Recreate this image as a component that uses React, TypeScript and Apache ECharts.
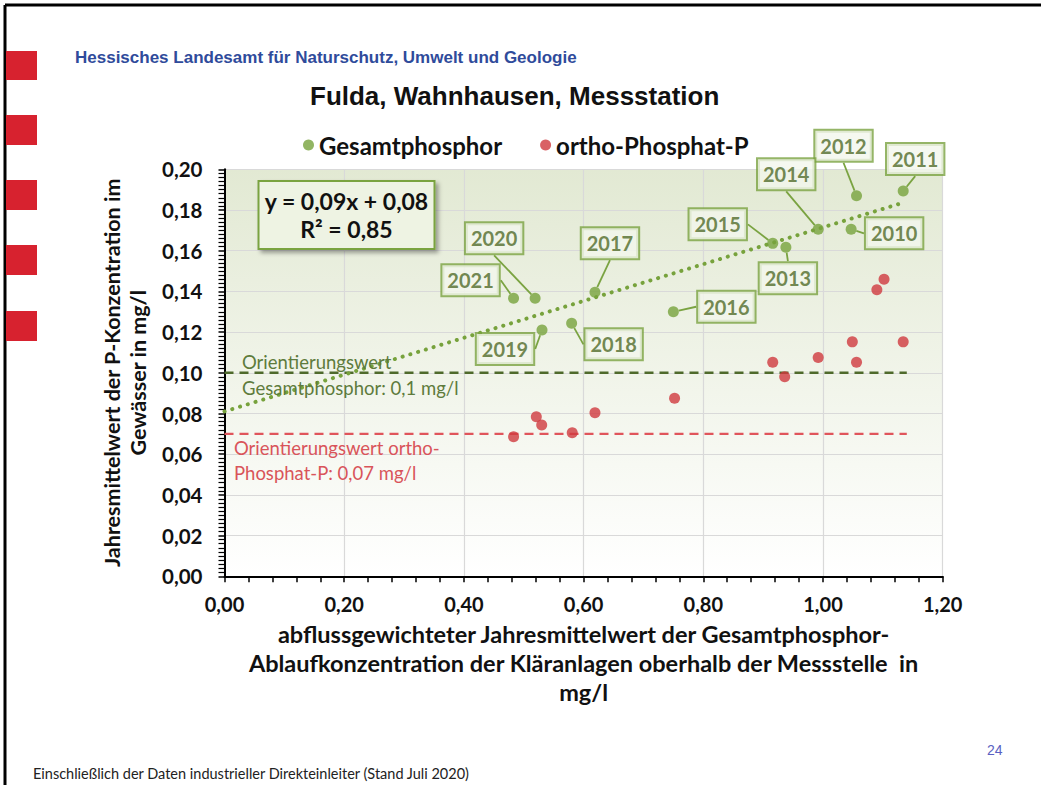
import React, { useEffect, useRef } from 'react';
import * as echarts from 'echarts';

// ---- data ----
const years = ['2010', '2011', '2012', '2013', '2014', '2015', '2016', '2017', '2018', '2019', '2020', '2021'];
const gesamtX = [1.047, 1.134, 1.056, 0.938, 0.992, 0.916, 0.75, 0.619, 0.58, 0.5305, 0.519, 0.483];
const gesamtY = [0.1705, 0.1893, 0.187, 0.1617, 0.1705, 0.1636, 0.13, 0.1396, 0.1243, 0.121, 0.1366, 0.1366];
const orthoX = [0.483, 0.521, 0.53, 0.581, 0.619, 0.752, 0.916, 0.936, 0.992, 1.049, 1.056, 1.134, 1.102, 1.09];
const orthoY = [0.0686, 0.0784, 0.0743, 0.0705, 0.0804, 0.0875, 0.1052, 0.0981, 0.1075, 0.1152, 0.1052, 0.1152, 0.146, 0.1408];
const trendX = [0, 1.134];
const trendY = [0.081, 0.1836];
const guideX = [0, 1.14];
const guideGesamt = 0.1;
const guideOrtho = 0.07;
const xTickLabels = ['0,00', '0,20', '0,40', '0,60', '0,80', '1,00', '1,20'];
const yTickLabels = ['0,00', '0,02', '0,04', '0,06', '0,08', '0,10', '0,12', '0,14', '0,16', '0,18', '0,20'];

// layout of the year callouts (pixel offsets from each point), same order as years
const labelOffsets: number[][] = [
  [43, 4], [12, -32], [-13, -50], [2, 31], [-32, -55], [-55, -19],
  [53, -5], [15, -49], [42, 21], [-37, 19], [-41, -60], [-43, -18],
];

const GREEN = '#77a23c';
const RED = '#d0393f';
const CAL = 'Lato, "Open Sans", sans-serif';

export default function App() {
  const ref = useRef<HTMLDivElement>(null);
  useEffect(() => {
    if (!ref.current) return;
    const chart = echarts.init(ref.current, undefined, { renderer: 'svg' });
    const option: any = {
      animation: false,
      backgroundColor: '#ffffff',
      title: {
        text: 'Fulda, Wahnhausen, Messstation',
        left: 305,
        top: 78,
        textStyle: { fontFamily: '"Liberation Sans", Arial, sans-serif', fontWeight: 'bold', fontSize: 26, color: '#111' },
      },
      legend: {
        data: ['Gesamtphosphor', 'ortho-Phosphat-P'],
        left: 298,
        top: 128,
        icon: 'circle',
        itemWidth: 11,
        itemHeight: 11,
        itemGap: 38,
        textStyle: { fontFamily: CAL, fontWeight: 'bold', fontSize: 24, color: '#111' },
      },
      grid: {
        left: 224.5,
        top: 169.3,
        right: 98.3,
        bottom: 208.7,
        show: true,
        borderWidth: 0,
        backgroundColor: new echarts.graphic.LinearGradient(0, 0, 0, 1, [
          { offset: 0, color: '#e2e9d3' },
          { offset: 1, color: '#ffffff' },
        ]),
      },
      xAxis: {
        type: 'value',
        min: 0,
        max: 1.2,
        interval: 0.2,
        name: 'abflussgewichteter Jahresmittelwert der Gesamtphosphor-\nAblaufkonzentration der Kläranlagen oberhalb der Messstelle  in\nmg/l',
        nameLocation: 'middle',
        nameGap: 42,
        nameTextStyle: { fontFamily: CAL, fontWeight: 'bold', fontSize: 23.5, lineHeight: 29, color: '#111' },
        axisLine: { show: true, onZero: false, lineStyle: { color: '#000', width: 2 } },
        axisTick: { show: true, length: 6, lineStyle: { color: '#000', width: 1.5 } },
        minorTick: { show: true, splitNumber: 5, length: 6, lineStyle: { color: '#000', width: 1.5 } },
        splitLine: { show: true, lineStyle: { color: '#d9d9d9', width: 1.2 } },
        axisLabel: {
          margin: 18,
          fontFamily: CAL,
          fontWeight: 'bold',
          fontSize: 20,
          color: '#111',
          formatter: (v: number) => xTickLabels[Math.round(v / 0.2)],
        },
      },
      yAxis: {
        type: 'value',
        min: 0,
        max: 0.2,
        interval: 0.02,
        name: 'Jahresmittelwert der P-Konzentration im\nGewässer in mg/l',
        nameLocation: 'middle',
        nameRotate: 90,
        nameGap: 68,
        nameTextStyle: { fontFamily: CAL, fontWeight: 'bold', fontSize: 21.5, lineHeight: 26, color: '#111' },
        axisLine: { show: true, onZero: false, lineStyle: { color: '#000', width: 2 } },
        axisTick: { show: true, length: 6, lineStyle: { color: '#000', width: 1.5 } },
        minorTick: { show: true, splitNumber: 10, length: 6, lineStyle: { color: '#000', width: 1.2 } },
        splitLine: { show: true, lineStyle: { color: '#d9d9d9', width: 1.2 } },
        axisLabel: {
          margin: 22,
          fontFamily: CAL,
          fontWeight: 'bold',
          fontSize: 20.5,
          color: '#111',
          formatter: (v: number) => yTickLabels[Math.round(v / 0.02)],
        },
      },
      series: [
        {
          name: 'guideGesamt',
          type: 'line',
          data: guideX.map((x) => [x, guideGesamt]),
          symbol: 'none',
          silent: true,
          lineStyle: { color: '#4f6a2c', width: 2.5, type: [9, 6] },
          z: 2,
        },
        {
          name: 'guideOrtho',
          type: 'line',
          data: guideX.map((x) => [x, guideOrtho]),
          symbol: 'none',
          silent: true,
          lineStyle: { color: '#e0555b', width: 2.2, type: [9, 6] },
          z: 2,
        },
        {
          name: 'trend',
          type: 'line',
          data: trendX.map((x, i) => [x, trendY[i]]),
          symbol: 'none',
          silent: true,
          lineStyle: { color: GREEN, width: 4, type: [0.1, 8], cap: 'round' },
          z: 3,
        },
        {
          name: 'ortho-Phosphat-P',
          type: 'scatter',
          data: orthoX.map((x, i) => [x, orthoY[i]]),
          symbolSize: 11,
          itemStyle: { color: RED },
          z: 4,
        },
        {
          name: 'Gesamtphosphor',
          type: 'scatter',
          data: gesamtX.map((x, i) => [x, gesamtY[i]]),
          symbolSize: 11,
          itemStyle: { color: GREEN },
          z: 5,
          label: {
            show: true,
            position: 'inside',
            formatter: (p: any) => years[p.dataIndex],
            fontFamily: CAL,
            fontWeight: 'bold',
            fontSize: 20,
            color: '#4f6a28',
            backgroundColor: '#f3f6ec',
            borderColor: '#7aa341',
            borderWidth: 2,
            padding: [6, 5, 4, 5],
          },
          labelLine: { show: true, lineStyle: { color: '#7aa341', width: 1.8 } },
          labelLayout: (p: any) => ({
            dx: labelOffsets[p.dataIndex][0],
            dy: labelOffsets[p.dataIndex][1],
            hideOverlap: false,
          }),
        },
      ],
      graphic: [
        { type: 'line', shape: { x1: 5, y1: 5, x2: 1041, y2: 5 }, style: { stroke: '#000', lineWidth: 3 } },
        { type: 'line', shape: { x1: 5, y1: 5, x2: 5, y2: 785 }, style: { stroke: '#000', lineWidth: 3 } },
        { type: 'rect', shape: { x: 6, y: 51, width: 31, height: 29 }, style: { fill: '#d7222f' } },
        { type: 'rect', shape: { x: 6, y: 115, width: 31, height: 30 }, style: { fill: '#d7222f' } },
        { type: 'rect', shape: { x: 6, y: 180, width: 31, height: 30 }, style: { fill: '#d7222f' } },
        { type: 'rect', shape: { x: 6, y: 245, width: 31, height: 30 }, style: { fill: '#d7222f' } },
        { type: 'rect', shape: { x: 6, y: 311, width: 31, height: 30 }, style: { fill: '#d7222f' } },
        {
          type: 'text', x: 75, y: 57,
          style: {
            text: 'Hessisches Landesamt für Naturschutz, Umwelt und Geologie',
            font: 'bold 17px "Liberation Sans", Arial, sans-serif',
            fill: '#2f4b9b', verticalAlign: 'middle',
          },
        },
        {
          type: 'text', x: 346.5, y: 182, z: 10,
          style: {
            text: 'y = 0,09x + 0,08\nR² = 0,85',
            font: 'bold 23px Lato, sans-serif',
            fill: '#111',
            align: 'center',
            verticalAlign: 'top',
            lineHeight: 28,
            backgroundColor: '#eef3e3',
            borderColor: '#7aa341',
            borderWidth: 2,
            padding: [5, 5, 5, 5],
            shadowColor: 'rgba(0,0,0,0.35)',
            shadowBlur: 4,
            shadowOffsetX: 3,
            shadowOffsetY: 3,
          },
        },
        { type: 'text', x: 242, y: 362, z: 10, style: { text: 'Orientierungswert', font: '18.5px Lato, sans-serif', fill: '#5e7b3c', verticalAlign: 'middle' } },
        { type: 'text', x: 242, y: 388, z: 10, style: { text: 'Gesamtphosphor: 0,1 mg/l', font: '18.5px Lato, sans-serif', fill: '#5e7b3c', verticalAlign: 'middle' } },
        { type: 'text', x: 234, y: 448, z: 10, style: { text: 'Orientierungswert ortho-', font: '18.5px Lato, sans-serif', fill: '#d9545a', verticalAlign: 'middle' } },
        { type: 'text', x: 234, y: 473, z: 10, style: { text: 'Phosphat-P: 0,07 mg/l', font: '18.5px Lato, sans-serif', fill: '#d9545a', verticalAlign: 'middle' } },
        { type: 'text', x: 33, y: 773, style: { text: 'Einschließlich der Daten industrieller Direkteinleiter (Stand Juli 2020)', font: '14.5px Lato, sans-serif', fill: '#222', verticalAlign: 'middle' } },
        { type: 'text', x: 987, y: 750, style: { text: '24', font: '14px "Liberation Sans", Arial, sans-serif', fill: '#5a5fc2', verticalAlign: 'middle' } },
      ],
    };
    chart.setOption(option);
    return () => chart.dispose();
  }, []);
  return (
    <div
      ref={ref}
      style={{ position: 'absolute', left: 0, top: 0, width: 1041, height: 785, background: '#fff' }}
    />
  );
}
